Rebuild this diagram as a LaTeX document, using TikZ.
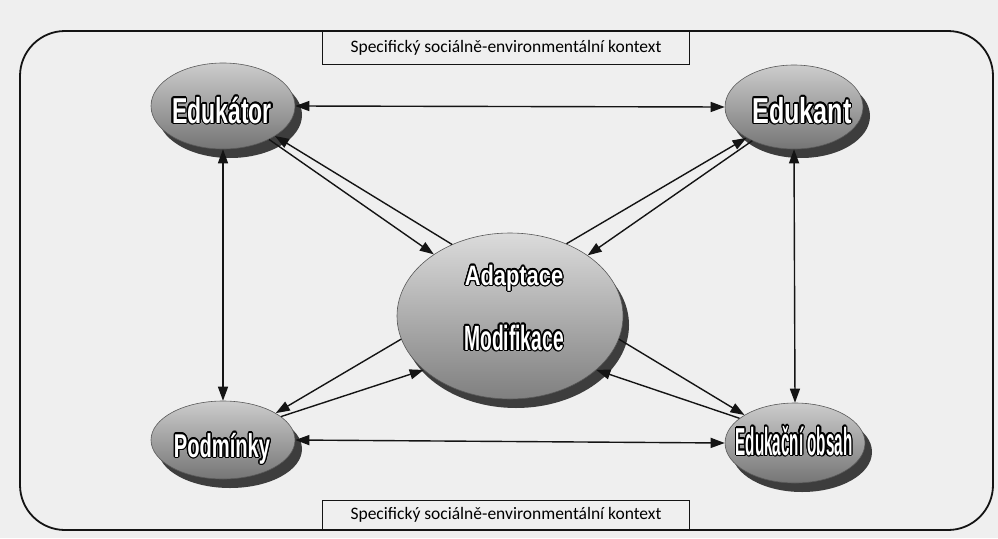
\documentclass[tikz,border=0pt]{standalone}
\usepackage{fontspec}
\setmainfont{Carlito}
\newfontfamily\imp{Liberation Sans}
\usetikzlibrary{shapes.geometric,arrows.meta,calc}
\usepackage{contour}
\contourlength{1.3pt}
\definecolor{bg}{HTML}{EFEFEF}
\definecolor{ink}{HTML}{141414}
\newcommand\ttl[3]{{\imp\bfseries\addfontfeatures{FakeStretch=#1}\fontsize{#2}{#2}\selectfont\contour{black}{\textcolor{white}{#3}}}}
\begin{document}
\begin{tikzpicture}[x=1pt,y=-1pt,
  ell/.style={ellipse, inner sep=0pt, draw=black!65, line width=0.6pt, top color=black!20, bottom color=black!54},
  shd/.style={ellipse, inner sep=0pt, fill=black!76, draw=none},
  arr/.style={line width=1.4pt, draw=ink, -{Triangle[length=14pt,width=10pt]}},
  barr/.style={line width=1.4pt, draw=ink, {Triangle[length=14pt,width=10pt]}-{Triangle[length=14pt,width=10pt]}},
  lbox/.style={draw=ink, line width=1.2pt, fill=bg, minimum width=367pt, inner sep=0pt, font=\fontsize{17.5}{18}\selectfont},
  ttext/.style={anchor=base, inner sep=0pt}
]
\fill[bg] (0,0) rectangle (998,538);
\useasboundingbox (0,0) rectangle (998,538);
\draw[ink, line width=1.8pt, rounded corners=45pt] (20,31) rectangle (993,530);
\node[lbox, anchor=north, minimum height=33pt] (ktop) at (506,31) {Specifický sociálně-environmentální kontext};
\node[lbox, anchor=south, minimum height=29pt] (kbot) at (506,530) {Specifický sociálně-environmentální kontext};
% shadows
\node[shd, minimum width=144pt, minimum height=86pt] (edus) at (230,115) {};
\node[shd, minimum width=138pt, minimum height=84pt] (edts) at (801,116) {};
\node[shd, minimum width=144pt, minimum height=78pt] (pods) at (230,449) {};
\node[shd, minimum width=140pt, minimum height=80pt] (obss) at (802,452) {};
\node[shd, minimum width=226pt, minimum height=166pt] (ctrs) at (516,325) {};
% ellipses
\node[ell, minimum width=144pt, minimum height=86pt] (edu) at (223,106) {};
\node[ell, minimum width=138pt, minimum height=84pt] (edt) at (794,107) {};
\node[ell, minimum width=144pt, minimum height=78pt] (pod) at (223,440) {};
\node[ell, minimum width=140pt, minimum height=80pt] (obs) at (795,443) {};
\node[ell, minimum width=226pt, minimum height=166pt, top color=black!14, bottom color=black!50] (ctr) at (510,316) {};
% texts
\node[ttext] (edut) at (222,123) {\ttl{0.64}{36}{Edukátor}};
\node[ttext] (edtt) at (802,123) {\ttl{0.70}{36}{Edukant}};
\node[ttext] (podt) at (222,457) {\ttl{0.61}{33}{Podmínky}};
\node[ttext] (obst) at (794,455) {\ttl{0.39}{39}{Edukační obsah}};
\node[ttext] (ctrt1) at (514,285) {\ttl{0.78}{28}{Adaptace}};
\node[ttext] (ctrt2) at (514,350) {\ttl{0.55}{35}{Modifikace}};
% outer connectors
\draw[barr] (edu.east) -- (edt.west);
\draw[barr] (edu.south) -- (pod.north);
\draw[barr] (edt.south) -- (obs.north);
\draw[barr] (pod.east) -- (obs.west);
% center connectors
\draw[arr] (edu.-36) -- (ctr.141);
\draw[arr] (ctr.129) -- (edu.-30);
\draw[arr] (ctr.52) -- (edt.213);
\draw[arr] (edt.219) -- (ctr.38);
\draw[arr] (ctr.192) -- (pod.27);
\draw[arr] (pod.22) -- (ctr.212);
\draw[arr] (ctr.-12) -- (obs.151);
\draw[arr] (obs.156) -- (ctr.-32);
\end{tikzpicture}
\end{document}
